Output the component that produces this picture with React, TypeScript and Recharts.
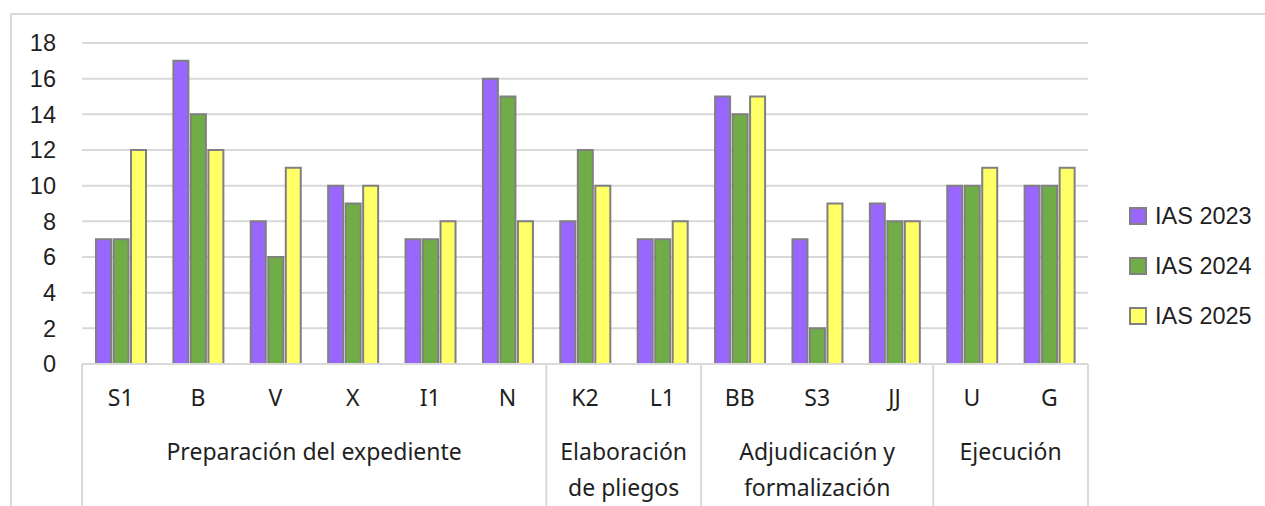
import React from 'react';
import { BarChart, Bar, XAxis, YAxis, CartesianGrid, Legend } from 'recharts';

const categories = ['S1', 'B', 'V', 'X', 'I1', 'N', 'K2', 'L1', 'BB', 'S3', 'JJ', 'U', 'G'];
const ias2023 = [7, 17, 8, 10, 7, 16, 8, 7, 15, 7, 9, 10, 10];
const ias2024 = [7, 14, 6, 9, 7, 15, 12, 7, 14, 2, 8, 10, 10];
const ias2025 = [12, 12, 11, 10, 8, 8, 10, 8, 15, 9, 8, 11, 11];
const groupLabels = [
  ['Preparación del expediente'],
  ['Elaboración', 'de pliegos'],
  ['Adjudicación y', 'formalización'],
  ['Ejecución'],
];
const groupSizes = [6, 2, 3, 2];
const yTicks = [0, 2, 4, 6, 8, 10, 12, 14, 16, 18];

const data = categories.map((name, i) => ({
  name,
  a: ias2023[i],
  b: ias2024[i],
  c: ias2025[i],
}));

const groupStarts: number[] = [];
{
  let s = 0;
  groupSizes.forEach((g) => {
    groupStarts.push(s);
    s += g;
  });
}

const GRID = '#d9d9d9';
const TEXT = '#1f1f1f';
const CAT_FONT = '"Noto Sans", sans-serif';
const NUM_FONT = '"Liberation Sans", Arial, sans-serif';
const CAT_SIZE = 23;

const CategoryTick = (props: any) => {
  const { x, y, payload, width, visibleTicksCount } = props;
  const idx: number = payload.index;
  const half: number =
    typeof payload.offset === 'number' && payload.offset > 0
      ? payload.offset
      : width / visibleTicksCount / 2;
  const els: React.ReactNode[] = [];
  els.push(
    <text
      key="lbl"
      x={x}
      y={y + 42}
      textAnchor="middle"
      fontFamily={CAT_FONT}
      fontSize={CAT_SIZE}
      fill={TEXT}
    >
      {payload.value}
    </text>
  );
  const gi = groupStarts.indexOf(idx);
  if (gi >= 0) {
    const left = x - half;
    els.push(
      <line key="sep" x1={left} x2={left} y1={y} y2={y + 150} stroke={GRID} strokeWidth={2} />
    );
    const cx = left + groupSizes[gi] * half;
    const lines = groupLabels[gi];
    els.push(
      <text
        key="grp"
        x={cx}
        y={y + 96}
        textAnchor="middle"
        fontFamily={CAT_FONT}
        fontSize={CAT_SIZE}
        fill={TEXT}
      >
        {lines.map((l, k) => (
          <tspan key={k} x={cx} dy={k === 0 ? 0 : 36}>
            {l}
          </tspan>
        ))}
      </text>
    );
  }
  if (idx === categories.length - 1) {
    const right = x + half;
    els.push(
      <line key="end" x1={right} x2={right} y1={y} y2={y + 150} stroke={GRID} strokeWidth={2} />
    );
  }
  return <g>{els}</g>;
};

const LegendContent = (props: any) => {
  const items = props.payload || [];
  return (
    <div>
      {items.map((e: any, i: number) => (
        <div
          key={i}
          style={{ display: 'flex', alignItems: 'center', height: 50 }}
        >
          <div
            style={{
              width: 14,
              height: 14,
              background: (e.payload && e.payload.fill) || e.color,
              border: '2px solid #808080',
              marginRight: 8,
            }}
          />
          <span
            style={{
              fontFamily: NUM_FONT,
              fontSize: 23.5,
              color: TEXT,
              lineHeight: '50px',
              whiteSpace: 'nowrap',
            }}
          >
            {e.value}
          </span>
        </div>
      ))}
    </div>
  );
};

export default function App() {
  return (
    <div
      style={{
        position: 'absolute',
        left: 0,
        top: 0,
        width: 1265,
        height: 506,
        overflow: 'hidden',
        background: '#fff',
      }}
    >
      <div
        style={{
          position: 'absolute',
          left: 10,
          top: 13,
          width: 1300,
          height: 600,
          border: '2px solid #d9d9d9',
          boxSizing: 'border-box',
        }}
      />
      <div style={{ position: 'absolute', left: 0, top: 0 }}>
        <BarChart
          width={1265}
          height={506}
          data={data}
          margin={{ top: 43, right: 177, left: 0, bottom: 0 }}
          barGap={2.5}
          barSize={15}
        >
          <CartesianGrid vertical={false} stroke={GRID} strokeWidth={2} />
          <YAxis
            width={82}
            domain={[0, 18]}
            ticks={yTicks}
            interval={0}
            axisLine={false}
            tickLine={false}
            tickSize={0}
            tickMargin={26}
            tick={{ fontFamily: NUM_FONT, fontSize: 23.5, fill: TEXT }}
          />
          <XAxis
            dataKey="name"
            height={142}
            interval={0}
            tickLine={false}
            tickSize={0}
            tickMargin={0}
            axisLine={{ stroke: GRID, strokeWidth: 2 }}
            tick={<CategoryTick />}
          />
          <Legend
            layout="horizontal"
            align="center"
            verticalAlign="middle"
            wrapperStyle={{ left: 1129, top: 191, width: 136 }}
            content={<LegendContent />}
          />
          <Bar dataKey="a" name="IAS 2023" fill="#9966ff" stroke="#808080" strokeWidth={2} isAnimationActive={false} />
          <Bar dataKey="b" name="IAS 2024" fill="#70ad47" stroke="#808080" strokeWidth={2} isAnimationActive={false} />
          <Bar dataKey="c" name="IAS 2025" fill="#ffff66" stroke="#808080" strokeWidth={2} isAnimationActive={false} />
        </BarChart>
      </div>
    </div>
  );
}
